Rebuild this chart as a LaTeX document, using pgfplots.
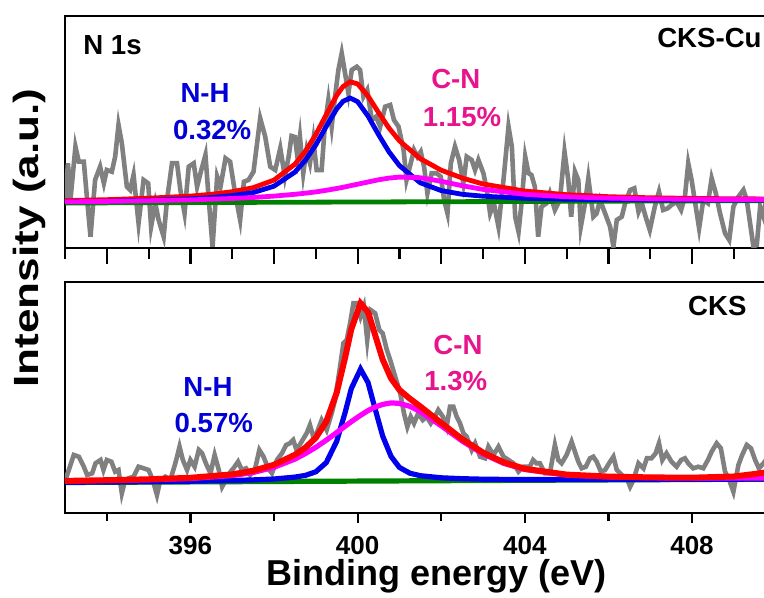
\documentclass[border=0pt]{standalone}
\usepackage{pgfplots}
\pgfplotsset{compat=1.18}
\usepackage{fontspec}
\setmainfont{Liberation Sans}
\definecolor{dgray}{RGB}{128,128,128}
\definecolor{fitred}{RGB}{255,0,0}
\definecolor{fitblue}{RGB}{0,0,235}
\definecolor{fitmag}{RGB}{255,0,255}
\definecolor{fitgreen}{RGB}{0,128,0}
\definecolor{txtblue}{RGB}{0,0,215}
\definecolor{txtpink}{RGB}{232,20,140}
\pgfplotsset{
 xpspanel/.style={
  scale only axis, width=365.75pt, xmin=393, xmax=410.5, ymin=0,
  ytick=\empty, axis line style={line width=1.3pt},
  every tick/.style={black, line width=1.1pt},
  tick align=outside, xtick pos=left,
  /pgf/number format/assume math mode=true,
  clip=true,
 },
}
\tikzset{annot/.style={font=\bfseries\fontsize{13.8}{16}\selectfont, inner sep=0pt}}
\begin{document}
\begin{tikzpicture}
% ---------------- bottom panel: CKS ----------------
\begin{axis}[xpspanel, at={(0pt,0pt)}, anchor=south west, height=115.5pt, ymax=231,
  xtick={396,400,404,408}, minor xtick={394,398,402,406,410},
  major tick length=5pt, minor tick length=4pt,
  xticklabel style={font=\bfseries\fontsize{13}{15}\selectfont, anchor=base, yshift=-16pt},
  xlabel={Binding energy (eV)},
  xlabel style={font=\bfseries\fontsize{18}{21}\selectfont, at={(axis description cs:0.508,0)}, anchor=base, yshift=-36.5pt},
]
\addplot[dgray, line width=2.3pt] coordinates {
(393.01,33) (393.09,43) (393.21,58) (393.33,56.3) (393.45,46.3) (393.53,38) (393.65,39.7) (393.73,49.7) (393.85,53) (393.92,43) (394.00,53) (394.11,51.3) (394.20,41.3) (394.28,43) (394.36,19.7) (394.44,33) (394.52,34.7) (394.64,36.3) (394.76,46.3) (394.88,44.7) (395.00,43) (395.10,33) (395.20,18) (395.28,33) (395.40,36.3) (395.52,33) (395.64,49.7) (395.74,66.3) (395.82,53) (395.92,43) (396.00,53) (396.10,46.3) (396.20,63) (396.28,59.7) (396.37,49.7) (396.48,39.7) (396.58,58) (396.68,43) (396.76,26.3) (396.85,33) (396.96,41.3) (397.03,44.7) (397.14,51.3) (397.23,43) (397.33,44.7) (397.43,38) (397.55,44.7) (397.65,63) (397.75,56.3) (397.86,44.7) (397.95,39.7) (398.07,53) (398.19,59.7) (398.29,68)
(398.38,69.7) (398.46,73) (398.54,63) (398.66,71.3) (398.78,79.7) (398.86,88) (398.94,76.3) (399.02,79.7) (399.14,93) (399.26,83) (399.38,99.7) (399.46,113) (399.58,146.3) (399.66,169.7) (399.74,173) (399.82,189.7) (399.90,209.7) (399.98,209.7) (400.07,196.3) (400.15,206.3) (400.23,173) (400.31,203) (400.42,199.7) (400.52,183) (400.60,179.7) (400.70,163) (400.78,153) (400.90,136.3) (401.02,119.7) (401.11,99.7) (401.19,86.3) (401.27,96.3) (401.35,89.7) (401.45,99.7) (401.56,93) (401.65,96.3) (401.75,89.7) (401.85,96.3) (401.93,103) (402.04,96.3) (402.13,86.3) (402.21,106.3) (402.29,106.3) (402.37,96.3) (402.45,89.7) (402.53,79.7) (402.61,76.3) (402.73,63) (402.81,69.7) (402.93,56.3) (403.05,54.7) (403.13,66.3) (403.25,58) (403.37,66.3) (403.49,56.3) (403.61,53) (403.73,49.7) (403.85,41.3) (403.97,46.3)
(404.12,46.3) (404.20,53) (404.28,49.7) (404.36,49.7) (404.48,39.7) (404.60,39.7) (404.72,68) (404.80,53) (404.88,49.7) (405.00,58) (405.12,71.3) (405.20,61.3) (405.28,51.3) (405.36,44.7) (405.46,46.3) (405.56,54.7) (405.64,56.3) (405.72,51.3) (405.82,41.3) (405.92,43) (406.04,51.3) (406.12,56.3) (406.20,43) (406.32,38) (406.44,34.7) (406.52,26.3) (406.60,33) (406.72,49.7) (406.84,44.7) (406.92,54.7) (407.03,54.7) (407.13,59.7) (407.21,69.7) (407.29,53) (407.39,59.7) (407.51,51.3) (407.63,46.3) (407.74,53) (407.83,54.7) (407.91,49.7) (408.03,44.7) (408.15,46.3) (408.27,44.7) (408.38,53) (408.47,61.3) (408.59,69.7) (408.69,64.7) (408.79,41.3) (408.89,33) (408.99,21.3) (409.11,48) (409.20,58) (409.31,68) (409.41,64.7) (409.51,53) (409.60,44.7) (409.71,49.7) (409.8,55) (410,50)
};
\addplot[fitgreen, line width=2.6pt] coordinates {(393,30.5) (410.5,34)};
\addplot[fitblue, line width=2.6pt] coordinates {
(393,30.7) (394,31.0) (395,31.3) (396,31.8) (397,32.5) (397.5,33.1) (398,34.0) (398.5,35.9) (398.75,37.6) (399,41.2) (399.25,50.4) (399.5,71.7) (399.7,100.3) (399.85,124.5) (400.07,143.9) (400.25,130.4) (400.4,107.0) (400.6,76.9) (400.8,56.6) (401,45.6) (401.25,39.8) (401.5,37.3) (402,35.2) (402.5,34.3) (403,33.8) (403.5,33.6) (404,33.4) (405,33.4) (406,33.4) (407,33.5) (408,33.7) (409,33.8) (410.5,34.1)
};
\addplot[fitmag, line width=2.6pt] coordinates {
(393,31.9) (394,32.5) (395,33.3) (396,34.5) (397,37.4) (397.5,40.5) (398,45.7) (398.5,53.9) (398.75,59.4) (399,65.7) (399.25,72.8) (399.5,80.4) (399.7,86.7) (399.85,91.4) (400.07,97.7) (400.25,102.4) (400.4,105.6) (400.6,108.6) (400.8,110.1) (401,109.6) (401.25,106.7) (401.5,101.4) (402,87.2) (402.5,72.0) (403,59.1) (403.5,49.6) (404,43.5) (405,37.9) (406,36.1) (407,35.4) (408,35.1) (409,35.0) (410.5,34.9)
};
\addplot[fitred, line width=3pt] coordinates {
(393,32.1) (394,32.8) (395,33.7) (396,35.2) (397,38.6) (397.5,42.2) (398,48.2) (398.5,58.2) (398.75,65.3) (399,75.2) (399.25,91.4) (399.5,120.3) (399.7,155.2) (399.85,184.0) (400.07,209.7) (400.25,200.8) (400.4,180.6) (400.6,153.5) (400.8,134.6) (401,123.1) (401.25,114.3) (401.5,106.5) (402,90.1) (402.5,73.9) (403,60.4) (403.5,50.6) (404,44.2) (405,38.4) (406,36.4) (407,35.6) (408,35.3) (409,36.5) (409.5,39) (410,42) (410.5,45)
};
\node[annot, anchor=west] at (axis cs:407.9,207) {CKS};
\node[annot, txtblue] at (axis cs:396.42,126) {N-H};
\node[annot, txtblue] at (axis cs:396.56,90) {0.57\%};
\node[annot, txtpink] at (axis cs:402.40,168) {C-N};
\node[annot, txtpink] at (axis cs:402.35,132) {1.3\%};
\end{axis}
% ---------------- top panel: CKS-Cu ----------------
\begin{axis}[xpspanel, at={(0pt,132.5pt)}, anchor=south west, height=116pt, ymax=232,
  xtick={394,396,...,410}, minor xtick={393,395,...,409},
  major tick length=8pt, minor tick length=5.5pt,
  xticklabels=\empty,
]
\addplot[dgray, line width=2.3pt] coordinates {
(393.01,48) (393.07,84.7) (393.13,48) (393.25,101.3) (393.33,86.3) (393.45,86.3) (393.53,48) (393.61,11.3) (393.72,68) (393.84,81.3) (393.93,64.7) (394.0,78) (394.12,76.3) (394.2,91.3) (394.28,123) (394.36,104.7) (394.48,61.3) (394.56,58) (394.64,73) (394.76,24.7) (394.88,68) (394.99,64.7) (395.06,21.3) (395.16,44.7) (395.24,28) (395.36,11.3) (395.44,48) (395.56,84.7) (395.68,84.7) (395.76,58) (395.86,34.7) (395.96,81.3) (396.08,84.7) (396.16,61.3) (396.24,74.7) (396.36,93) (396.44,48) (396.53,1.3) (396.64,71.3) (396.72,61.3) (396.84,89.7) (396.95,86.3) (397.07,54.7) (397.19,28) (397.28,66.3) (397.39,68) (397.51,76.3) (397.67,129.7) (397.79,111.3) (397.91,81.3) (398.03,78) (398.15,99.7) (398.26,71.3) (398.35,91.3)
(398.42,112) (398.50,111) (398.56,91.3) (398.62,111.3) (398.70,74.7) (398.78,98) (398.86,84.7) (398.94,108) (399.02,78) (399.14,78) (399.22,124.7) (399.30,148) (399.38,121.3) (399.46,151.3) (399.54,178) (399.62,194.7) (399.70,174.7) (399.78,154.7) (399.86,178) (399.98,181.3) (400.06,178) (400.14,151.3) (400.23,158) (400.34,128) (400.44,131.3) (400.54,121.3) (400.66,141.3) (400.78,143) (400.87,128) (400.98,121.3) (401.10,98) (401.17,68) (401.25,81.3) (401.35,98) (401.43,91.3) (401.51,96.3) (401.59,81.3) (401.67,54.7) (401.77,74.7) (401.89,74.7) (401.99,71.3) (402.07,48) (402.15,34.7) (402.23,84.7) (402.33,101.3) (402.43,88) (402.53,64.7) (402.61,91.3) (402.73,88) (402.81,78) (402.89,88) (403.01,74.7) (403.09,58) (403.17,34.7) (403.26,44.7) (403.37,21.3) (403.49,68) (403.61,121.3) (403.69,101.3) (403.77,31.3) (403.85,16.3) (403.93,48)
(404.01,91.3) (404.09,74.7) (404.16,73) (404.24,61.3) (404.32,11.3) (404.40,41.3) (404.52,44.7) (404.60,54.7) (404.72,38) (404.84,48) (404.95,96.3) (405.04,68) (405.11,31.3) (405.20,76.3) (405.28,68) (405.34,21.3) (405.44,44.7) (405.52,69.7) (405.64,31.3) (405.72,34.7) (405.80,48) (405.92,34.7) (406.04,21.3) (406.12,1.3) (406.20,28) (406.32,31.3) (406.40,44.7) (406.52,58) (406.62,59.7) (406.72,36.3) (406.80,44.7) (406.89,31.3) (406.99,18) (407.11,41.3) (407.21,56.3) (407.31,38) (407.42,39.7) (407.51,43) (407.63,46.3) (407.74,38) (407.83,51.3) (407.91,84.7) (407.99,68) (408.09,41.3) (408.17,19.7) (408.27,48) (408.38,44.7) (408.47,69.7) (408.57,54.7) (408.67,34.7) (408.79,14.7) (408.89,8) (408.99,41.3) (409.11,51.3) (409.23,58) (409.31,48) (409.39,24.7) (409.47,1.3) (409.55,3) (409.63,41.3) (409.71,31.3) (409.8,55) (410,45)
};
\addplot[fitgreen, line width=2.4pt] coordinates {(393,45) (410.5,47.45)};
\addplot[fitred, line width=2.4pt] coordinates {
(393,47.4) (394,48.3) (395,49.8) (396,51.9) (396.5,53.7) (397,56.3) (397.5,60.3) (398,67.9) (398.5,83.8) (398.75,96.7) (399,113.4) (399.25,133.3) (399.5,152.7) (399.65,161.4) (399.82,166.2) (400,164.1) (400.25,151.9) (400.5,135.5) (400.75,120.0) (401,107.2) (401.5,89.3) (402,77.8) (402.5,70.0) (403,64.0) (404,56.9) (405,53.3) (406,51.3) (407,50.2) (408,49.6) (409,49.2) (410.5,48.9)
};
\addplot[fitblue, line width=2.4pt] coordinates {
(393,46.2) (394,46.8) (395,47.8) (396,49.2) (396.5,50.5) (397,52.4) (397.5,55.4) (398,61.8) (398.5,75.9) (398.75,87.7) (399,103.1) (399.25,121.5) (399.5,139.1) (399.65,146.6) (399.82,150.0) (400,146.3) (400.25,131.9) (400.5,113.4) (400.75,96.2) (401,82.4) (401.5,65.2) (402,57.4) (402.5,53.7) (403,51.8) (404,49.7) (405,48.8) (406,48.3) (407,48.1) (408,48.0) (409,47.9) (410.5,48.0)
};
\addplot[fitmag, line width=2.4pt] coordinates {
(393,46.2) (394,46.6) (395,47.3) (396,48.1) (396.5,48.8) (397,49.5) (397.5,50.5) (398,51.9) (398.5,53.7) (398.75,54.8) (399,56.1) (399.25,57.7) (399.5,59.5) (399.65,60.7) (399.82,62.2) (400,63.8) (400.25,66.0) (400.5,68.2) (400.75,69.9) (401,70.9) (401.5,70.3) (402,66.7) (402.5,62.3) (403,58.6) (404,53.7) (405,51.2) (406,49.9) (407,49.1) (408,48.7) (409,48.5) (410.5,48.3)
};
\node[annot, anchor=west] at (axis cs:393.43,203) {N 1s};
\node[annot, anchor=west] at (axis cs:407.16,210) {CKS-Cu};
\node[annot, txtblue] at (axis cs:396.35,155) {N-H};
\node[annot, txtblue] at (axis cs:396.52,118) {0.32\%};
\node[annot, txtpink] at (axis cs:402.35,169) {C-N};
\node[annot, txtpink] at (axis cs:402.50,131) {1.15\%};
\end{axis}
\node[rotate=90, xscale=1.26, anchor=base, inner sep=0pt, font=\bfseries\fontsize{17.5}{20}\selectfont] at (-13.5pt,137.5pt) {Intensity (a.u.)};
\pgfresetboundingbox
\useasboundingbox (-32.5pt,-42.5pt) rectangle (349.5pt,256.5pt);
\end{tikzpicture}
\end{document}
